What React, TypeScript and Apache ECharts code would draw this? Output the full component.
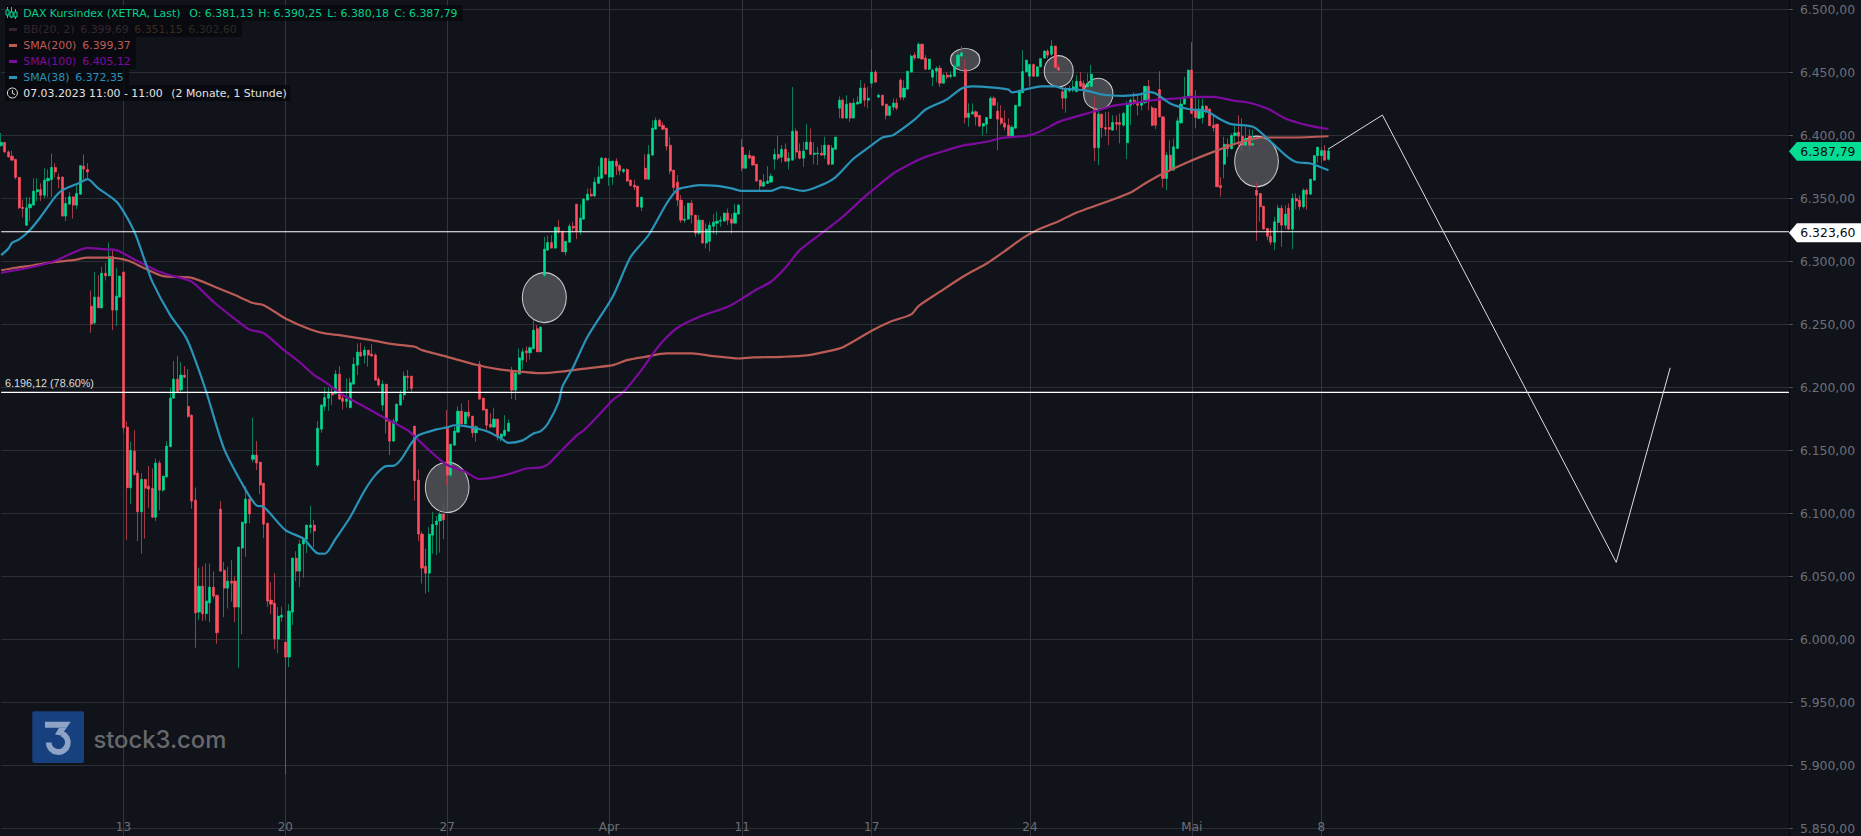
import React, { useEffect, useRef } from "react";
import * as echarts from "echarts";

// [open, close, low, high]
const candlesMar1: number[][] = [
[6392,6394.5,6391,6402],[6394.5,6387,6386,6395],[6387,6383,6382.5,6388],[6383.6,6380.4,6380,6388],[6381,6366.7,6365,6381.5],
[6366.7,6342.6,6341.5,6367],[6343,6342,6335,6349],[6328.8,6342.6,6328,6351],[6342.6,6345.5,6332,6351],[6344.7,6355.8,6344.5,6366],
[6355.3,6357,6348,6366],[6357,6352.6,6348,6362],[6352.6,6364.5,6350,6374],[6364,6366,6351,6373],[6365,6374.6,6351,6385.7],
[6374.6,6371,6366.7,6378],[6367,6365.3,6358,6370],[6367,6336,6336,6367.5],[6336,6346,6332,6351],[6345.5,6351.3,6345,6355],
[6351.3,6344.7,6334,6351.5],[6344.7,6354,6341.5,6361],[6353.4,6376,6353,6376.5],[6375.7,6373.3,6365,6385],[6373,6371,6366,6378],
[6264.5,6250.3,6243.4,6277],[6251.3,6271.7,6249.5,6291.8],[6271.7,6263.2,6263,6289],[6263.2,6290.7,6262.5,6295.8],[6290.7,6288.6,6285,6299],
[6288.6,6304,6288.3,6315],[6304,6261.4,6245.5,6310],[6261.4,6272.5,6248.7,6295],[6271.7,6288.4,6271.5,6288.6],
];
const candlesMar2: number[][] = [
[6291.5,6168,6164,6292],[6168.5,6120.4,6079,6173],[6120.4,6150,6107.4,6157],[6149.5,6131,6130,6166],[6132,6101.3,6078,6134],
[6101.3,6127,6068,6132],[6127,6120,6080,6127.5],[6121.7,6119.3,6104.5,6137.6],[6120,6097,6096.5,6135.7],[6097,6140,6094,6143.6],
[6140,6118.5,6102.6,6142],[6118.5,6129.6,6117,6130],[6129,6153.4,6128.5,6157.4],[6153,6191.5,6152.5,6199.7],[6191.5,6206.6,6191,6221],
[6206.6,6196.8,6196.5,6224.8],[6198,6209.8,6195,6220],[6209.8,6208,6207.5,6217],[6185,6177,6176,6214.5],[6178,6109.8,6103.7,6178.5],
[6110.6,6021,5993.4,6120.6],[6021.7,6042.3,6015.3,6057],[6042.3,6020.4,6014.6,6058],[6020.4,6030.4,6015,6060.3],[6029,6041.5,6013.8,6060.3],
[6041.5,6034.4,6032.5,6054],[6035,6005.3,5996.6,6035.5],[6103.4,6054.2,6054,6109.8],[6055,6040.7,6017.7,6061.4],[6040.7,6046.3,6024.6,6057.7],
[6046.3,6044.7,6030,6063],[6046.3,6025.7,6013.8,6050],[6025.7,6073.3,5977.5,6073.5],[6072.5,6093,6004,6093.5],[6092.3,6111.4,6065.6,6121.7],
[6111.4,6099.5,6092.3,6111.6],[6143,6146.3,6140.7,6176],[6146.3,6140,6134.4,6157.4],[6140.7,6122.5,6115.3,6141],[6124,6091.5,6080.4,6124.2],
[6092.3,6030.4,6025.7,6092.5],[6031.2,6028,6020,6045.5],[6028.8,6000.3,5992.3,6052.6],[6000.3,6018.5,5989,6025.7],[6017.7,6019.3,6014,6026],
];
const candlesMar3: number[][] = [
[5997.9,5986,5893,5998],[5986,6022.5,5978,6028],[6021.7,6064.5,6011.4,6065],[6064.5,6054.2,6046.3,6070],[6054.2,6075.7,6041.5,6079],
[6075.7,6080.4,6048.7,6080.6],[6079.6,6090.7,6068.5,6091],[6089,6090.7,6084,6105.8],[6090.7,6086,6073.3,6094.7],[6138.4,6167.7,6136.8,6173.3],
[6166.9,6186,6164,6187],[6185,6192,6181.5,6200],[6191.5,6195,6181.5,6200],[6195.8,6194,6186,6200.5],[6195,6210.6,6194.8,6213.8],
[6210.6,6190.7,6190.5,6217],[6191.5,6189,6182.5,6195],[6189,6191,6184,6207],[6184,6203.7,6183.5,6207.7],[6202.6,6218.5,6202.4,6223.8],
[6217.7,6228,6209.8,6235],[6228,6224.9,6224.3,6235.5],[6225.4,6229.6,6219,6232.7],[6229.6,6225.7,6216.4,6229.8],[6226.5,6224.9,6224.5,6234.3],
[6225.7,6205.8,6205.6,6227],[6206.6,6201.9,6200.5,6208.5],[6186,6202.6,6181.4,6205.8],[6202.6,6173.3,6163.5,6202.8],[6174,6157.4,6146.3,6174.2],
[6157.4,6173.3,6157.2,6175.4],[6173.3,6186.8,6170.6,6187],[6186,6194.7,6185.8,6198],[6194,6209,6190,6212.7],[6209,6208,6197.9,6213.8],
[6209,6199.2,6196.6,6209.2],[6169.3,6126,6110,6169.5],[6126.5,6083.6,6078,6135],[6083.6,6056.6,6044.5,6085.5],[6058,6052.6,6036.5,6072],
[6052.6,6083.6,6037.8,6089.4],[6082.8,6091.3,6068,6101.3],[6091,6094,6067,6098],[6094,6099.5,6068.8,6102.6],[6099.5,6095,6079.6,6108],
];
const candlesMar4: number[][] = [
[6167.5,6130.4,6122.5,6182],[6130.4,6155,6128.3,6155.2],[6154.2,6165.3,6154,6168.8],[6164.5,6181.2,6164.3,6185],[6181.2,6171,6170.8,6187.3],
[6171,6180.4,6170.8,6180.6],[6180.4,6177.2,6175.4,6190],[6177.2,6164,6160.3,6177.4],[6164,6168.8,6157,6170],[6218.5,6190.7,6190.5,6221],
[6191.5,6182,6181.8,6191.7],[6182.8,6170,6166,6183],[6170.9,6168.5,6168.3,6179.5],[6168.5,6174.9,6168.3,6184],[6174.9,6160.8,6158,6175.1],
[6160.3,6163,6157,6163.2],[6161.9,6166,6160.8,6178],[6165.3,6171.7,6165.1,6174.6],[6212.4,6197.9,6190.7,6216.4],[6197.9,6211.4,6190,6214],
[6210.6,6223.5,6210.4,6231],[6221.7,6228.3,6214.6,6231],[6229,6227.5,6220,6232.5],[6227.5,6231.5,6222,6232.5],[6230.7,6245.5,6230.5,6253.5],
[6246.6,6228.3,6228.1,6249.5],[6228.3,6247.9,6228.1,6248.1],[6289,6309.8,6287,6319.6],[6309,6315,6308.5,6320.6],[6315,6310.6,6310.4,6320.8],
[6310.6,6327.2,6310.4,6327.4],[6327.2,6323.3,6322,6332.8],[6324,6307.7,6307.5,6324.2],[6307.5,6316,6304.8,6316.2],[6315.3,6328,6315.1,6330],
[6328,6326.5,6323,6331.5],[6345.5,6324,6317.7,6345.7],[6324,6334.4,6321,6345.5],[6333.6,6349.5,6333.4,6350.5],[6348.7,6353.4,6348.5,6358],
[6353.4,6352,6351.4,6358],[6352,6363,6351,6366.7],[6362,6367,6361.8,6375.7],[6366,6382,6365.8,6383],[6382,6369.3,6369.1,6382.2],
];
const candlesApr1: number[][] = [
[6367,6379.6,6360,6382],[6367,6379.6,6360.8,6379.8],[6379.6,6375.7,6368.5,6382],[6376,6372,6368.5,6377.6],[6371.4,6373,6370,6374],
[6373,6363.8,6363.3,6374],[6364.6,6360.3,6359.3,6365],[6360.6,6359,6356.6,6365],[6359.8,6343.4,6343.2,6360],[6343,6351,6340,6351.2],
[6374,6365.3,6365.1,6385],[6365.3,6385,6365.1,6392.3],[6384.4,6405.8,6384.2,6412],[6405,6412,6404.8,6414.3],[6412,6407.4,6407,6413.2],
[6408,6405,6404.2,6410.6],[6405.8,6391.5,6388,6406],[6392.3,6371.7,6369.3,6399],[6372.5,6358.7,6355.3,6372.7],[6363,6348.7,6344,6368.5],
[6348.7,6332.8,6330.7,6352.6],[6332.8,6333.6,6330.7,6344.2],[6333.6,6346.3,6333.4,6346.5],[6346.3,6336.8,6330.1,6348.7],[6336.8,6322.5,6319.6,6337],
[6322.5,6332.8,6321,6336.8],[6332.8,6314.6,6314.4,6333],[6314.6,6325.7,6310.3,6330.2],[6316,6328.8,6308,6331.5],[6328,6331.2,6321.8,6337.6],
[6330.4,6332,6321,6339.5],[6332,6332.8,6327.6,6335.8],[6332,6338.4,6331.8,6338.6],[6338.4,6332.8,6329,6342],[6333.6,6330.4,6322,6338],
[6330.4,6338.4,6330.2,6345.5],[6337.6,6344.7,6337.4,6345.5],
];
const candlesApr2: number[][] = [
[6390.7,6374,6371.7,6397],[6374,6384.4,6373.8,6384.6],[6384.4,6382,6381.4,6388.4],[6383.6,6376.5,6376.3,6383.8],[6377.2,6363.8,6363.6,6377.4],
[6364.6,6359.8,6356.6,6364.8],[6359.8,6363,6359,6369.3],[6362,6363.8,6361.5,6375.7],[6363,6367.7,6362.8,6370],[6381.2,6385,6373,6389.5],
[6385,6382,6380.5,6400],[6382.8,6389,6378.5,6392.3],[6389,6379.6,6379,6393.7],[6379.6,6382,6373,6386.8],[6380.4,6403.4,6380.2,6438.4],
[6403.4,6386.8,6381.5,6405.5],[6387.6,6382,6381,6393.7],[6382,6387.6,6375,6395],[6389,6394.7,6388.8,6409],[6394.7,6385,6384.8,6405.5],
[6385,6386,6377,6394.7],[6385.4,6386,6376.5,6391],[6386,6384.4,6384.2,6392.3],[6384.4,6392.3,6381.5,6399],[6392.3,6377.2,6376.3,6392.5],
[6377.2,6390,6377,6392.3],[6389,6398.7,6388.8,6398.9],[6421.7,6428,6413.8,6431],[6428,6413.8,6413.6,6429.3],[6413.8,6424.9,6413.6,6432],
[6425.7,6413.8,6410.9,6425.9],[6413.8,6425.7,6413.6,6429.3],[6424.9,6426.5,6424.7,6431],[6425.7,6437.6,6424.9,6444],[6437.6,6428,6422.8,6441.3],
[6428,6429.6,6421.7,6438.5],
];
const candlesApr3: number[][] = [
[6441.5,6450.3,6437.6,6468.5],[6450.3,6442.3,6442.1,6451.9],[6430.4,6432,6430.2,6433.3],[6432,6424,6423.3,6432.2],[6424.9,6416,6412.7,6425.1],
[6416,6423.3,6415.2,6423.5],[6422.5,6425.7,6420,6429.3],[6425.7,6421.7,6420,6429.3],[6444,6430.4,6428,6445.3],[6430.4,6437.6,6428,6444],
[6436.8,6451,6436.6,6451.2],[6450.3,6463,6450.1,6464.5],[6463.8,6461.4,6459.8,6466],[6461.4,6472.5,6461.2,6474],[6472.5,6460.6,6460.4,6472.7],
[6461.4,6452.6,6451.9,6463.8],[6452.6,6460.6,6451.9,6460.8],[6446.3,6451.9,6439,6453.2],[6451,6453.4,6442.3,6454.9],[6453.4,6441.5,6438.5,6455.8],
[6441.5,6447.9,6441.3,6449.2],[6447.9,6446.3,6444.7,6450.5],[6446.8,6447.9,6445.2,6451],[6447,6455,6446.8,6457],[6455,6463.8,6454.8,6466.4],
[6463,6465.6,6462.8,6470.9],[6452.4,6414.3,6409.5,6460.3],[6414.3,6417.7,6406.9,6425.4],[6417,6418.8,6416.8,6425.4],[6418.8,6414.8,6408,6420],
[6416,6407.4,6407.2,6416.2],[6407.4,6409.5,6400,6409.7],[6409,6414.3,6401.5,6414.5],[6413.5,6429.6,6413.3,6431],[6429.6,6424,6423.8,6431],
[6419.3,6413,6388.4,6426.5],[6413.8,6409.8,6408.2,6424],[6409.8,6406.6,6404.2,6420],
];
const candlesApr4: number[][] = [
[6408.2,6399.5,6399.3,6413.5],[6399.5,6406.6,6399.3,6408.2],[6405.8,6424,6405.6,6424.2],[6423.3,6434.7,6423,6436],[6433.9,6450.8,6433.7,6467.7],
[6450.5,6459.8,6450.3,6460],[6447,6456.3,6439,6456.5],[6456.3,6447,6446.8,6457],[6447,6454.5,6446.8,6454.7],[6454.5,6461,6454.3,6461.2],
[6461.4,6467,6461.2,6467.7],[6467,6463.8,6461.2,6468.5],[6464.5,6471,6463,6475.7],[6471,6454,6453.8,6471.2],[6454,6451.9,6451.4,6457],
[6434.7,6429.6,6420.9,6438.6],[6429.6,6436.5,6418,6438.6],[6435.4,6437,6434.2,6439.4],[6436,6438.6,6434.2,6443.8],[6434.7,6443,6434.5,6447.9],
[6443,6439,6438.5,6450.5],[6441.3,6436.5,6434.7,6443.8],[6438.6,6441.3,6438,6449.2],[6439,6448.7,6438.5,6456],[6420.6,6390.2,6379.6,6430.7],
[6390.2,6417,6376.5,6421.4],[6417,6406.3,6398.4,6417.2],[6406.3,6405,6399.5,6418.8],[6406.3,6405,6392.3,6418.8],[6404.2,6410.3,6404,6416],
[6410.3,6409,6404,6416],[6410.3,6408.7,6393.7,6417.5],[6408.2,6417.5,6407,6418.8],[6394.2,6424.9,6381.2,6427.5],[6424,6428,6408.5,6429.3],
];
const candlesMay: number[][] = [
[6428,6425.4,6424,6434.3],[6426.7,6424,6416,6432.8],[6424,6426.7,6420,6434.3],[6426,6439,6425,6439.2],[6439,6426.7,6420,6444],
[6422,6408,6407.8,6423.5],[6421.4,6408.2,6405,6421.6],[6436.5,6414.8,6414.3,6451],[6414.8,6365.9,6358.5,6415],[6365.9,6384.4,6356.6,6387],
[6384.4,6372.5,6372.3,6396.3],[6372.5,6391,6372.3,6397.6],[6389.7,6411.6,6389.5,6414.3],[6410,6424.9,6409.5,6429.3],[6424.9,6430.7,6424.7,6446.6],
[6430.7,6451.9,6430.5,6452.1],[6451.9,6417.5,6417.3,6474],[6420,6414.3,6405.6,6436],[6413.5,6421,6413.3,6429.3],[6414.3,6423.3,6409.5,6429.3],
[6423.3,6420,6417.5,6424],[6421,6407.7,6407.5,6421.2],[6408.2,6406,6403,6416],[6409,6359.3,6359.1,6409.2],[6360.3,6358.5,6351.3,6367],
[6377.2,6393,6366,6399],[6393,6389.4,6383,6397.5],[6389.4,6400,6389.2,6401.6],[6400,6402,6392,6409],[6402.6,6399.5,6391,6416],
[6399.5,6392.3,6387.5,6413.5],[6392.3,6397.6,6391,6406.8],[6399.5,6392.3,6388,6405],[6392.3,6393.6,6392,6404.5],[6356.6,6352.6,6316.4,6363],
[6354,6343.4,6331.5,6354.2],[6343.9,6325.7,6325.5,6344.1],[6326.2,6320,6316.8,6326.4],[6320,6315.3,6313,6326],[6315.3,6331.5,6309,6335.5],
[6330.9,6342.3,6323.5,6345],[6342.3,6328.8,6311.6,6344.7],[6328.8,6337.6,6325.7,6344.7],[6342.3,6325.7,6325,6346],[6325.7,6350,6309.8,6354],
[6350,6348,6341.4,6354],[6348.7,6343.4,6340.8,6352.6],[6343.4,6356.6,6342,6358],[6356.6,6353.4,6341,6358],[6353.4,6365.3,6353.2,6365.5],
[6364.5,6384,6364.3,6384.2],[6384,6390.7,6378.4,6391],[6384,6388,6378.4,6391],[6388,6380.4,6380.2,6392.3],[6381.13,6387.79,6380.18,6390.25],
];
const candles = [...candlesMar1, ...candlesMar2, ...candlesMar3, ...candlesMar4, ...candlesApr1, ...candlesApr2, ...candlesApr3, ...candlesApr4, ...candlesMay];

const sma38: number[][] = [
[0,6305],[2,6310.3],[3,6314.8],[5,6317.5],[8,6325],[11,6335.5],[15,6351.3],[17,6356.6],[22,6362.7],[24,6365.3],[27,6358],[31,6350],[33,6344.2],[37,6323.8],[40,6300],[42,6284],[47,6257.4],[51,6241.5],[53,6229],[57,6196.6],[62,6151],[68,6118.5],[71,6106.3],[73,6105.3],[79,6086.8],[84,6080],[88,6068.3],[90,6068],[93,6080],[97,6097],[101,6118],[104,6130.4],[107,6137.6],[109,6137.8],[111,6142.3],[114,6155.6],[116,6162],[121,6166.7],[124,6168.3],[126,6170],[129,6169.3],[135,6165.3],[139,6159.5],[141,6156],[145,6158],[148,6163.5],[150,6165.3],[152,6171.4],[155,6188.6],[156,6200.5],[159,6216],[163,6240.2],[170,6272],[175,6303.7],[180,6321],[185,6346],[188,6357],[191,6359.3],[194,6360.6],[199,6360],[203,6358],[206,6356],[214,6356],[217,6359],[223,6356],[228,6360.6],[232,6367],[237,6381.7],[242,6392.3],[245,6398.4],[248,6400.3],[254,6412.7],[257,6420.6],[263,6428.8],[267,6437.3],[270,6439],[276,6438],[280,6436.5],[281,6434.2],[284,6436],[289,6439],[293,6439],[295,6437.3],[301,6436],[306,6432.5],[312,6431.5],[317,6432.8],[319,6434.6],[321,6433.3],[325,6425.4],[330,6421],[335,6419.3],[339,6412.7],[342,6409],[348,6406.9],[351,6400.3],[357,6384.4],[360,6379],[364,6377.8],[369,6372.35],
];
const sma100: number[][] = [
[0,6291],[9,6295.8],[15,6300.5],[20,6307],[24,6310.8],[28,6309.8],[32,6309],[37,6301.6],[43,6293],[47,6289],[53,6283.9],[59,6268],[66,6252],[69,6246],[73,6243],[78,6231],[83,6220],[87,6209.8],[90,6204.5],[95,6194],[101,6184.7],[106,6176.7],[113,6166],[115,6160.8],[120,6147.6],[124,6138.4],[129,6133],[133,6127.2],[139,6129.6],[143,6133],[146,6135.7],[150,6136.5],[152,6138.9],[155,6147.6],[160,6162],[162,6166],[167,6180.7],[170,6190],[173,6196.6],[178,6213.8],[183,6233.6],[188,6247.4],[194,6256],[202,6264],[206,6270.6],[210,6277.8],[214,6283.9],[218,6295],[222,6309],[228,6322.2],[234,6335.6],[239,6348.7],[242,6356],[248,6369.8],[253,6377.8],[257,6383],[263,6388.4],[267,6391.8],[274,6395],[278,6398],[282,6399],[286,6400.3],[290,6404.8],[294,6410.8],[300,6416],[305,6420],[309,6423.5],[315,6426],[322,6428.6],[327,6429.4],[331,6430.7],[337,6430.7],[343,6427.5],[347,6426],[352,6421.4],[357,6413.5],[363,6408.2],[369,6405.12],
];
const sma200: number[][] = [
[0,6293],[4,6295],[9,6297],[15,6299.7],[20,6301],[24,6303],[29,6303],[35,6301],[40,6294.4],[45,6288.4],[53,6287],[59,6280.4],[65,6273.3],[70,6267],[73,6265.3],[79,6254.8],[86,6246],[90,6242.9],[94,6241.5],[102,6238],[109,6234.4],[115,6232.3],[117,6229.6],[124,6224.3],[132,6218],[138,6214.6],[142,6213.2],[150,6211.3],[157,6213],[164,6215.6],[170,6217.7],[174,6221.7],[179,6224.3],[185,6227],[192,6227],[198,6224.9],[205,6223],[209,6223.8],[217,6224.3],[224,6225.4],[230,6228.8],[234,6232],[242,6245],[247,6252],[253,6258],[255,6264.6],[261,6276],[267,6287.3],[270,6292.3],[274,6298.4],[280,6310.3],[284,6318.5],[288,6324.9],[294,6332],[299,6338.9],[306,6346],[314,6354.8],[318,6361.9],[323,6369.8],[330,6379],[337,6387],[344,6394.2],[351,6398.4],[359,6398.4],[369,6399.37],
];
const forecast: number[][] = [[369,6389.3],[384,6416.2],[449,6061.2],[464,6215.6]];
const levelLines: number[] = [6323.6, 6196.12];
// [bar, price, width px, height px]
const marks: number[][] = [[124,6120.7,43.7,50.3],[151,6271.3,44,50],[268,6460.2,29.3,22.3],[294,6451,29,31],[305,6433,29.3,31],[349,6379.4,43.7,50.7]];
const priceTags: number[] = [6387.79, 6323.6];
const tickBars: number[] = [34, 79, 124, 169, 206, 242, 286, 331, 367];
const tickLabels: string[] = ["13", "20", "27", "Apr", "11", "17", "24", "Mai", "8"];
const SLOT_COUNT = 498;

const BG = "#10131a";
const GRID = "#2d2f36";
const AXIS_TXT = "#6c6f76";
const UP = "#03dc92";
const DOWN = "#ff4e60";
const FONT = '"DejaVu Sans"';

const fmt = (v: number) => {
  const [a, b] = v.toFixed(2).split(".");
  return a.slice(0, -3) + "." + a.slice(-3) + "," + b;
};
const tickSet = new Set(tickBars);
const categories = Array.from({ length: SLOT_COUNT }, (_, i) => {
  const k = tickBars.indexOf(i);
  return k >= 0 ? tickLabels[k] : String(i);
});

function txt(x: number, y: number, text: string, fill: string, extra: any = {}) {
  return { type: "text", x, y, z: 101, silent: true, style: { text, fill, font: `10.9px ${FONT}`, verticalAlign: "middle", ...extra } };
}
function panel(x: number, y: number, w: number, h: number) {
  return { type: "rect", z: 100, silent: true, shape: { x, y, width: w, height: h }, style: { fill: "rgba(8,9,13,0.82)" } };
}
function swatch(y: number, fill: string) {
  return { type: "rect", z: 101, silent: true, shape: { x: 9, y: y - 1.5, width: 8, height: 3 }, style: { fill } };
}

const legendGraphics: any[] = [
  panel(5, 5, 458, 16), panel(5, 21, 237, 16), panel(5, 37, 130.7, 32), panel(5, 69, 124, 16), panel(5, 85, 285.7, 16),
  // candle icon
  { type: "line", z: 101, shape: { x1: 7.5, y1: 7, x2: 7.5, y2: 18 }, style: { stroke: UP, lineWidth: 1 } },
  { type: "rect", z: 101, shape: { x: 6, y: 10, width: 3, height: 5 }, style: { fill: BG, stroke: UP, lineWidth: 1 } },
  { type: "line", z: 101, shape: { x1: 11.5, y1: 7, x2: 11.5, y2: 18 }, style: { stroke: UP, lineWidth: 1 } },
  { type: "rect", z: 101, shape: { x: 10, y: 12, width: 3, height: 5 }, style: { fill: BG, stroke: UP, lineWidth: 1 } },
  { type: "line", z: 101, shape: { x1: 15.5, y1: 9, x2: 15.5, y2: 19 }, style: { stroke: UP, lineWidth: 1 } },
  { type: "rect", z: 101, shape: { x: 14, y: 12, width: 3, height: 5 }, style: { fill: BG, stroke: UP, lineWidth: 1 } },
  txt(23.3, 13.5, "DAX Kursindex (XETRA, Last)", "#06d18c"),
  txt(189.3, 13.5, "O: 6.381,13", "#06d18c"),
  txt(258.3, 13.5, "H: 6.390,25", "#06d18c"),
  txt(327.3, 13.5, "L: 6.380,18", "#06d18c"),
  txt(394.3, 13.5, "C: 6.387,79", "#06d18c"),
  swatch(29.5, "#352430"),
  txt(23.3, 29.5, "BB(20, 2)", "#35252f"),
  txt(80.3, 29.5, "6.399,69", "#35252f"),
  txt(134.3, 29.5, "6.351,15", "#3b2c1b"),
  txt(188.3, 29.5, "6.302,60", "#282b24"),
  swatch(45.5, "#bf5b56"),
  txt(23.3, 45.5, "SMA(200)", "#bf5b56"),
  txt(82.3, 45.5, "6.399,37", "#bf5b56"),
  swatch(61.5, "#7e0a9e"),
  txt(23.3, 61.5, "SMA(100)", "#7e0a9e"),
  txt(82.3, 61.5, "6.405,12", "#7e0a9e"),
  swatch(77.5, "#2a93b9"),
  txt(23.3, 77.5, "SMA(38)", "#2a93b9"),
  txt(75.3, 77.5, "6.372,35", "#2a93b9"),
  { type: "circle", z: 101, shape: { cx: 12.4, cy: 93, r: 5 }, style: { fill: "none", stroke: "#e4e4e4", lineWidth: 1 } },
  { type: "polyline", z: 101, shape: { points: [[12.4, 90], [12.4, 93.3], [15, 94.6]] }, style: { fill: "none", stroke: "#e4e4e4", lineWidth: 1 } },
  txt(23.3, 93.5, "07.03.2023 11:00 - 11:00", "#e2e2e2"),
  txt(171.3, 93.5, "(2 Monate, 1 Stunde)", "#e2e2e2"),
  // level caption
  txt(5, 382.5, "6.196,12 (78.60%)", "#dddddd", { font: '10.8px "Liberation Sans"' }),
];

const logoGraphics: any[] = [
  { type: "rect", z: 5, silent: true, shape: { x: 32.3, y: 711.3, width: 51.7, height: 51.7, r: 2 }, style: { fill: "#17407f" } },
  { type: "polygon", z: 6, silent: true, shape: { points: [[45, 721.7], [70.7, 721.7], [66.7, 727.7], [45, 727.7]] }, style: { fill: "#8ea3c6" } },
  { type: "polygon", z: 6, silent: true, shape: { points: [[66.7, 727.7], [61, 735.5], [55, 734.5], [59, 727.7]] }, style: { fill: "#8ea3c6" } },
  { type: "arc", z: 6, silent: true, shape: { cx: 58.3, cy: 742.4, r: 9.6, startAngle: -1.2, endAngle: Math.PI, clockwise: true }, style: { fill: "none", stroke: "#8ea3c6", lineWidth: 5.8 } },
  { type: "text", z: 6, silent: true, x: 93.4, y: 739, style: { text: "stock3.com", fill: "#67686c", font: '500 23.8px Inter', verticalAlign: "middle" } },
];

export default function App() {
  const ref = useRef<HTMLDivElement>(null);
  useEffect(() => {
    document.body.style.margin = "0";
    document.body.style.background = BG;
    const chart = echarts.init(ref.current!, null, { renderer: "svg" });
    const lineBase = { type: "line", showSymbol: false, symbol: "none", silent: true, animation: false, z: 5 };
    chart.setOption({
      animation: false,
      backgroundColor: BG,
      tooltip: { show: false },
      graphic: { elements: [...logoGraphics, ...legendGraphics] },
      grid: { left: 1.2, right: 72.1, top: -53.5, bottom: -55.4, containLabel: false, outerBoundsMode: "none" },
      xAxis: {
        type: "category",
        data: categories,
        boundaryGap: false,
        axisLine: { show: false },
        axisTick: { show: false },
        axisLabel: {
          interval: (i: number) => tickSet.has(i),
          inside: true,
          margin: 58,
          color: AXIS_TXT,
          fontSize: 12,
          fontFamily: FONT,
          hideOverlap: false,
        },
        splitLine: { show: true, interval: (i: number) => tickSet.has(i), lineStyle: { color: "#33353c", width: 1 } },
      },
      yAxis: {
        type: "value",
        position: "right",
        min: 5800,
        max: 6550,
        interval: 50,
        scale: true,
        axisLine: { show: true, lineStyle: { color: "#05070b", width: 1 } },
        axisTick: { show: true, length: 4, lineStyle: { color: "#50535a" } },
        axisLabel: { color: AXIS_TXT, fontSize: 12.4, fontFamily: FONT, margin: 11, showMinLabel: false, showMaxLabel: false, formatter: (v: number) => fmt(v) },
        splitLine: { show: true, lineStyle: { color: GRID, width: 1 } },
      },
      series: [
        {
          type: "scatter",
          name: "marks",
          z: 1,
          silent: true,
          symbol: "circle",
          data: marks.map((m) => [m[0], m[1]]),
          symbolSize: (_: any, p: any) => [marks[p.dataIndex][2], marks[p.dataIndex][3]],
          itemStyle: { color: "rgba(255,255,255,0.23)", borderColor: "rgba(235,235,235,0.8)", borderWidth: 1.1, opacity: 1 },
        },
        {
          type: "candlestick",
          name: "wicks",
          z: 2,
          silent: true,
          barWidth: 1,
          data: candles,
          itemStyle: { color: "#0a7f59", color0: "#a23b47", borderColor: "#0a7f59", borderColor0: "#a23b47", borderWidth: 1 },
        },
        {
          type: "candlestick",
          name: "bodies",
          z: 3,
          silent: true,
          barWidth: 2.6,
          data: candles.map(([o, c]) => [o, c, Math.min(o, c), Math.max(o, c)]),
          itemStyle: { color: UP, color0: DOWN, borderColor: UP, borderColor0: DOWN, borderWidth: 0.6 },
        },
        { ...lineBase, smooth: 0.25, name: "SMA(200)", data: sma200, lineStyle: { color: "#bb5b56", width: 2.2 } },
        { ...lineBase, smooth: 0.25, name: "SMA(100)", data: sma100, lineStyle: { color: "#7e0a9e", width: 2.2 } },
        { ...lineBase, smooth: 0.25, name: "SMA(38)", data: sma38, lineStyle: { color: "#2a93b9", width: 2.2 } },
        ...levelLines.map((v) => ({ ...lineBase, z: 6, name: "level", data: [[0, v], [SLOT_COUNT - 1, v]], lineStyle: { color: "#ffffff", width: 1.1 } })),
        { ...lineBase, z: 7, name: "forecast", data: forecast, lineStyle: { color: "#dedede", width: 1 } },
        {
          type: "custom",
          name: "tags",
          z: 8,
          silent: true,
          clip: false,
          data: priceTags.map((p) => [SLOT_COUNT - 1, p]),
          renderItem: (params: any, api: any) => {
            const [x, y0] = api.coord([api.value(0), api.value(1)]);
            const y = params.dataIndex === 0 ? y0 + 0.5 : y0 + 1;
            const fill = params.dataIndex === 0 ? UP : "#ffffff";
            return {
              type: "group",
              children: [
                { type: "polygon", shape: { points: [[x, y], [x + 8, y - 9.4], [1861, y - 9.4], [1861, y + 9.4], [x + 8, y + 9.4]] }, style: { fill } },
                { type: "text", style: { text: fmt(api.value(1)), x: 1800.3, y, fill: "#0a0c10", font: `12.4px ${FONT}`, textVerticalAlign: "middle", verticalAlign: "middle" } },
              ],
            };
          },
        },
      ],
    });
    return () => chart.dispose();
  }, []);
  return <div ref={ref} style={{ position: "fixed", left: 0, top: 0, width: 1861, height: 836 }} />;
}
